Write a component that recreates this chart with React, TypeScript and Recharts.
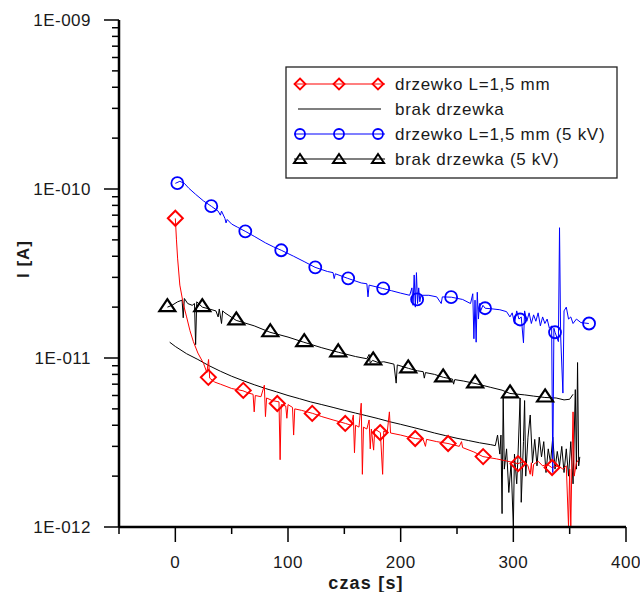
import React from 'react';
import { ComposedChart, Line, XAxis, YAxis, Legend } from 'recharts';

type P = [number, number];

// ---------- data (t [s], I [A]) ----------
const seriesNames = [
  'drzewko L=1,5 mm',
  'brak drzewka',
  'drzewko L=1,5 mm (5 kV)',
  'brak drzewka (5 kV)',
];

const redLine: P[] = [
  [0, 6.7e-11], [1, 5.0e-11], [2, 3.9e-11], [4, 2.7e-11], [7, 2.1e-11], [10, 1.75e-11], [13, 1.45e-11],
  [16, 1.25e-11], [20, 1.07e-11], [25, 9.3e-12], [28, 8.2e-12], [29.5, 9.8e-12], [30.5, 7.6e-12],
  [35, 7.2e-12], [40, 7.0e-12], [45, 6.8e-12], [50, 6.6e-12], [55, 6.5e-12], [60, 6.4e-12], [65, 6.2e-12],
  [69, 6.1e-12], [70, 4.8e-12], [71, 6.0e-12], [76, 5.9e-12], [79, 6.9e-12], [80, 4.5e-12], [81, 5.8e-12],
  [86, 5.6e-12], [92, 5.5e-12], [93, 2.5e-12], [94, 5.3e-12], [98, 5.2e-12], [99, 4.4e-12], [100, 5.3e-12],
  [104, 5.1e-12], [105, 3.5e-12], [106, 5.0e-12], [112, 4.9e-12], [122, 4.7e-12], [130, 4.5e-12],
  [140, 4.3e-12], [151, 4.1e-12], [156, 4.0e-12], [158, 4.6e-12], [159, 2.75e-12], [160, 4.0e-12],
  [163, 3.9e-12], [165, 5.4e-12], [166, 2.05e-12], [167, 3.9e-12], [170, 3.8e-12], [172, 4.3e-12],
  [173, 2.9e-12], [174, 3.8e-12], [176, 2.85e-12], [177, 3.8e-12], [182, 3.62e-12], [184, 2.05e-12],
  [185, 3.7e-12], [188, 3.6e-12], [190, 4.8e-12], [191, 3.6e-12], [200, 3.5e-12], [206, 3.42e-12],
  [213, 3.34e-12], [220, 3.3e-12], [222, 3.0e-12], [223, 3.3e-12], [232, 3.2e-12], [242, 3.12e-12],
  [252, 3.0e-12], [254, 3.2e-12], [255, 2.95e-12], [265, 2.78e-12], [273, 2.61e-12], [285, 2.53e-12],
  [295, 2.45e-12], [304, 2.37e-12], [310, 2.45e-12], [313, 2.3e-12], [315, 2.05e-12], [316, 2.4e-12],
  [317, 2.0e-12], [318, 2.35e-12], [322, 2.45e-12], [326, 2.3e-12], [330, 2.35e-12], [334, 2.25e-12],
  [340, 2.3e-12], [344, 2.2e-12], [347, 2.3e-12], [349, 1.0e-12], [350, 2.2e-12], [351, 1.0e-12],
  [352, 2.4e-12], [353, 4.8e-12], [354, 2.0e-12], [356, 2.4e-12], [358, 2.5e-12],
];
const redMarks: P[] = [
  [0, 6.71e-11], [29.3, 7.68e-12], [60.3, 6.43e-12], [90.5, 5.38e-12], [121.5, 4.7e-12], [150.8, 4.1e-12],
  [181.8, 3.62e-12], [212.9, 3.34e-12], [242.1, 3.12e-12], [273.2, 2.61e-12], [304.2, 2.37e-12], [334.4, 2.25e-12],
];

const blackLine: P[] = [
  [-5, 1.24e-11], [0, 1.17e-11], [10, 1.06e-11], [20, 9.8e-12], [30, 9.0e-12], [40, 8.35e-12], [50, 7.8e-12],
  [60, 7.35e-12], [70, 6.95e-12], [80, 6.6e-12], [90, 6.3e-12], [100, 6.0e-12], [110, 5.75e-12],
  [120, 5.5e-12], [130, 5.3e-12], [140, 5.1e-12], [150, 4.9e-12], [160, 4.72e-12], [170, 4.55e-12],
  [180, 4.38e-12], [190, 4.2e-12], [200, 4.05e-12], [210, 3.9e-12], [220, 3.75e-12], [230, 3.6e-12],
  [240, 3.47e-12], [250, 3.35e-12], [260, 3.25e-12], [270, 3.15e-12], [280, 3.07e-12], [284, 3.03e-12],
  [286, 3.5e-12], [288, 2.7e-12], [289, 3.5e-12], [290, 1.2e-12], [291, 5.8e-12], [292, 2.2e-12],
  [294, 2.9e-12], [296, 1.6e-12], [298, 2.4e-12], [300, 1.0e-12], [301, 2.7e-12], [303, 1.8e-12],
  [304, 2.5e-12], [306, 5.8e-12], [307, 1.4e-12], [309, 3.2e-12], [310, 5.6e-12], [311, 2.0e-12],
  [313, 3.4e-12], [315, 4.6e-12], [317, 2.4e-12], [319, 3.3e-12], [321, 2.3e-12], [323, 3.4e-12],
  [325, 2.6e-12], [327, 3.2e-12], [329, 2.1e-12], [331, 2.9e-12], [333, 2.4e-12], [335, 3.4e-12],
  [337, 2.2e-12], [339, 2.8e-12], [341, 2.3e-12], [343, 3.0e-12], [345, 2.1e-12], [347, 2.9e-12],
  [349, 2.0e-12], [351, 3.2e-12], [353, 1.8e-12], [355, 6.5e-12], [356, 2.2e-12], [357, 9.4e-12],
  [358, 2.3e-12], [359, 2.6e-12],
];

const blueLine: P[] = [
  [0, 1.08e-10], [4, 1.11e-10], [8, 1.08e-10], [12, 1.01e-10], [18, 9.3e-11], [25, 8.5e-11], [32, 7.9e-11],
  [38, 7.4e-11], [40, 7.0e-11], [41, 7.4e-11], [44, 6.7e-11], [45, 6.3e-11], [46, 6.6e-11], [50, 6.2e-11],
  [55, 5.95e-11], [62, 5.62e-11], [70, 5.25e-11], [80, 4.8e-11], [87, 4.55e-11], [94, 4.34e-11],
  [105, 4.0e-11], [115, 3.7e-11], [124, 3.44e-11], [135, 3.25e-11], [140, 3.2e-11], [141, 2.95e-11],
  [142, 3.15e-11], [153, 2.96e-11], [165, 2.78e-11], [170, 2.75e-11], [171, 2.3e-11], [172, 2.7e-11],
  [184, 2.58e-11], [192, 2.5e-11], [200, 2.42e-11], [208, 2.35e-11], [210, 2.6e-11], [211, 2.05e-11],
  [212, 3.1e-11], [213, 2.0e-11], [214, 3.2e-11], [215, 2.1e-11], [216, 2.6e-11], [217, 2.15e-11],
  [218, 2.35e-11], [225, 2.35e-11], [232, 2.3e-11], [236, 2.1e-11], [237, 2.3e-11], [245, 2.29e-11],
  [255, 2.22e-11], [262, 2.1e-11], [264, 2.4e-11], [265, 1.3e-11], [266, 2.2e-11], [267, 1.24e-11],
  [268, 2.45e-11], [269, 1.7e-11], [270, 2.1e-11], [271, 1.9e-11], [273, 2.05e-11], [275, 1.97e-11],
  [282, 1.95e-11], [288, 1.93e-11], [294, 1.88e-11], [297, 1.75e-11], [299, 1.85e-11], [301, 1.6e-11],
  [303, 1.9e-11], [305, 1.7e-11], [307, 1.75e-11], [309, 1.23e-11], [310, 1.9e-11], [312, 1.65e-11],
  [314, 1.85e-11], [316, 1.6e-11], [318, 1.8e-11], [320, 1.65e-11], [322, 1.85e-11], [324, 1.55e-11],
  [326, 1.75e-11], [328, 1.6e-11], [330, 1.7e-11], [332, 1.5e-11], [334, 1.55e-11], [335, 2.1e-12],
  [336, 1.5e-11], [337, 1.42e-11], [340, 1.25e-11], [341, 5.9e-11], [342, 1.35e-11], [344, 6.2e-12],
  [345, 1.9e-11], [347, 2.0e-11], [349, 1.7e-11], [351, 1.75e-11], [353, 1.6e-11], [356, 1.7e-11],
  [360, 1.62e-11], [367, 1.6e-11],
];
const blueMarks: P[] = [
  [1.8, 1.082e-10], [31.9, 7.91e-11], [62.1, 5.62e-11], [94.0, 4.34e-11], [124.2, 3.44e-11], [153.4, 2.96e-11],
  [184.5, 2.58e-11], [214.6, 2.22e-11], [244.8, 2.29e-11], [274.9, 1.97e-11], [306.0, 1.69e-11],
  [337.0, 1.42e-11], [367.2, 1.6e-11],
];

const triLine: P[] = [
  [-7, 2.0e-11], [-3, 2.05e-11], [2, 2.15e-11], [6, 2.2e-11], [7, 1.73e-11], [8, 2.25e-11], [11, 2.1e-11],
  [15, 2.05e-11], [17, 2.1e-11], [18, 1.2e-11], [19, 2.15e-11], [24, 2.0e-11], [30, 1.95e-11], [36, 1.9e-11],
  [38, 1.75e-11], [39, 1.95e-11], [41, 1.6e-11], [42, 1.9e-11], [44, 1.85e-11], [54, 1.67e-11],
  [70, 1.55e-11], [84, 1.42e-11], [100, 1.33e-11], [114, 1.24e-11], [130, 1.15e-11], [145, 1.08e-11],
  [160, 1.02e-11], [170, 9.9e-12], [172, 1.05e-11], [173, 9.3e-12], [175, 9.68e-12], [180, 9.4e-12],
  [185, 9.5e-12], [194, 9.2e-12], [196, 7.1e-12], [197, 9.1e-12], [207, 8.68e-12], [215, 8.4e-12],
  [220, 8.3e-12], [221, 7.6e-12], [222, 8.2e-12], [230, 8.0e-12], [238, 7.68e-12], [246, 7.5e-12],
  [247, 7.0e-12], [248, 7.45e-12], [256, 7.3e-12], [266, 7.07e-12], [280, 6.7e-12], [290, 6.45e-12],
  [297, 6.17e-12], [310, 6.05e-12], [318, 5.95e-12], [328, 5.84e-12], [338, 5.8e-12], [345, 5.65e-12],
  [350, 5.7e-12], [353, 6.1e-12],
];
const triMarks: P[] = [
  [-7.1, 2.0e-11], [23.9, 2.0e-11], [54.1, 1.67e-11], [84.3, 1.42e-11], [114.4, 1.24e-11], [144.6, 1.08e-11],
  [175.6, 9.68e-12], [206.7, 8.68e-12], [237.7, 7.68e-12], [266.1, 7.07e-12], [297.1, 6.17e-12], [328.2, 5.84e-12],
];

const xMajorTicks = [0, 100, 200, 300, 400];
const xMinorTicks = [-50, 50, 150, 250, 350];
const yMajorTicks = [1e-12, 1e-11, 1e-10, 1e-9];
const yTickLabels = ['1E-012', '1E-011', '1E-010', '1E-009'];
const yMinorTicks: number[] = [];
[1e-12, 1e-11, 1e-10].forEach((d) => {
  for (let k = 2; k <= 9; k++) yMinorTicks.push(k * d);
});

const rows = (a: P[]) => a.map(([t, v]) => ({ t, v }));

// ---------- styling ----------
const FONT = '"Liberation Sans", Arial, sans-serif';
const RED = '#ff0000';
const BLUE = '#0000ff';
const BLACK = '#000000';
const TEXT = '#1a1a1a';

const diamondPath = (cx: number, cy: number, s: number) =>
  `M${cx},${cy - s}L${cx + s},${cy}L${cx},${cy + s}L${cx - s},${cy}Z`;
const triPath = (cx: number, cy: number, hw: number, h: number) =>
  `M${cx},${cy - (2 * h) / 3}L${cx + hw},${cy + h / 3}L${cx - hw},${cy + h / 3}Z`;

const DiamondDot = (p: any) =>
  p.cx == null ? <g key={p.index} /> : (
    <path key={p.index} d={diamondPath(p.cx, p.cy, 7.5)} fill="none" stroke={RED} strokeWidth={2} />
  );
const CircleDot = (p: any) =>
  p.cx == null ? <g key={p.index} /> : (
    <circle key={p.index} cx={p.cx} cy={p.cy} r={6} fill="none" stroke={BLUE} strokeWidth={1.8} />
  );
const TriDot = (p: any) =>
  p.cx == null ? <g key={p.index} /> : (
    <path key={p.index} d={triPath(p.cx, p.cy, 8, 12)} fill="none" stroke={BLACK} strokeWidth={2.2} />
  );

const YTick = (props: any) => {
  const { x, y, payload } = props;
  const idx = yMajorTicks.findIndex((m) => Math.abs(payload.value - m) / m < 1e-6);
  const major = idx >= 0;
  const len = major ? 15 : 7;
  return (
    <g>
      <line x1={x} x2={x - len} y1={y} y2={y} stroke={BLACK} strokeWidth={1.5} />
      {major && (
        <text x={x - 28} y={y} dy="0.36em" textAnchor="end" fontFamily={FONT} fontSize={17}
          letterSpacing={0.5} fill={TEXT}>
          {yTickLabels[idx]}
        </text>
      )}
    </g>
  );
};

const XTick = (props: any) => {
  const { x, y, payload } = props;
  const major = xMajorTicks.includes(payload.value);
  const len = major ? 15 : 7;
  return (
    <g>
      <line x1={x} x2={x} y1={y} y2={y + len} stroke={BLACK} strokeWidth={1.5} />
      {major && (
        <text x={x} y={y + 41} textAnchor="middle" fontFamily={FONT} fontSize={17}
          letterSpacing={0.5} fill={TEXT}>
          {String(payload.value)}
        </text>
      )}
    </g>
  );
};

const legendMarkers = ['diamond', 'none', 'circle', 'triangle'];
const legendColors = [RED, BLACK, BLUE, BLACK];

const LegendBox = () => (
  <svg width={334} height={114} style={{ display: 'block' }}>
    <rect x={1} y={1} width={331} height={111} fill="#ffffff" stroke="#222" strokeWidth={1.3} />
    {seriesNames.map((name, i) => {
      const cy = 18 + i * 25;
      const c = legendColors[i];
      const m = legendMarkers[i];
      const xs = [15, 54, 93];
      return (
        <g key={name}>
          {m === 'none' ? (
            <line x1={13} x2={96} y1={cy} y2={cy} stroke={c} strokeWidth={1.2} />
          ) : (
            <line x1={9} x2={100} y1={cy} y2={cy} stroke={c} strokeWidth={1.2} />
          )}
          {m === 'diamond' && xs.map((x) => (
            <path key={x} d={diamondPath(x, cy, 5.5)} fill="none" stroke={c} strokeWidth={1.8} />
          ))}
          {m === 'circle' && xs.map((x) => (
            <circle key={x} cx={x} cy={cy} r={5} fill="none" stroke={c} strokeWidth={1.8} />
          ))}
          {m === 'triangle' && xs.map((x) => (
            <path key={x} d={triPath(x, cy + 1, 6, 9)} fill="none" stroke={c} strokeWidth={2} />
          ))}
          <text x={110} y={cy} dy="0.36em" fontFamily={FONT} fontSize={17} letterSpacing={0.7} fill={TEXT}>
            {name}
          </text>
        </g>
      );
    })}
  </svg>
);

export default function App() {
  return (
    <div style={{ position: 'absolute', left: 0, top: 0, width: 640, height: 592, background: '#fff' }}>
      <ComposedChart width={640} height={592} margin={{ top: 20, right: 14, bottom: 25, left: 59 }}>
        <XAxis
          dataKey="t"
          type="number"
          domain={[-50, 400]}
          ticks={[...xMinorTicks, ...xMajorTicks].sort((a, b) => a - b)}
          interval={0}
          tick={<XTick />}
          tickLine={false}
          tickSize={0}
          tickMargin={0}
          height={40}
          axisLine={{ stroke: BLACK, strokeWidth: 2.5 }}
          label={{
            content: () => (
              <text x={366} y={589} textAnchor="middle" fontFamily={FONT} fontSize={18}
                fontWeight="bold" letterSpacing={1.2} fill={TEXT}>
                czas [s]
              </text>
            ),
          }}
        />
        <YAxis
          dataKey="v"
          type="number"
          scale="log"
          domain={[1e-12, 1e-9]}
          ticks={[...yMajorTicks, ...yMinorTicks].sort((a, b) => a - b)}
          interval={0}
          tick={<YTick />}
          tickLine={false}
          tickSize={0}
          tickMargin={0}
          width={60}
          axisLine={{ stroke: BLACK, strokeWidth: 2.5 }}
          label={{
            content: () => (
              <text x={23} y={259} transform="rotate(-90 23 259)" textAnchor="middle" dy="0.36em"
                fontFamily={FONT} fontSize={17} fontWeight="bold" letterSpacing={1} fill={TEXT}>
                I [A]
              </text>
            ),
          }}
        />
        <Legend
          layout="vertical"
          align="center"
          verticalAlign="middle"
          content={() => <LegendBox />}
          wrapperStyle={{ left: 285, top: 66, width: 334, height: 114 }}
        />
        <Line data={rows(blackLine)} dataKey="v" stroke={BLACK} strokeWidth={1} dot={false} activeDot={false}
          isAnimationActive={false} legendType="none" name={seriesNames[1]} />
        <Line data={rows(triLine)} dataKey="v" stroke={BLACK} strokeWidth={1} dot={false} activeDot={false}
          isAnimationActive={false} legendType="none" name={seriesNames[3]} />
        <Line data={rows(redLine)} dataKey="v" stroke={RED} strokeWidth={1} dot={false} activeDot={false}
          isAnimationActive={false} legendType="none" name={seriesNames[0]} />
        <Line data={rows(blueLine)} dataKey="v" stroke={BLUE} strokeWidth={1} dot={false} activeDot={false}
          isAnimationActive={false} legendType="none" name={seriesNames[2]} />
        <Line data={rows(triMarks)} dataKey="v" stroke="none" dot={TriDot} activeDot={false}
          isAnimationActive={false} legendType="none" />
        <Line data={rows(redMarks)} dataKey="v" stroke="none" dot={DiamondDot} activeDot={false}
          isAnimationActive={false} legendType="none" />
        <Line data={rows(blueMarks)} dataKey="v" stroke="none" dot={CircleDot} activeDot={false}
          isAnimationActive={false} legendType="none" />
      </ComposedChart>
    </div>
  );
}
